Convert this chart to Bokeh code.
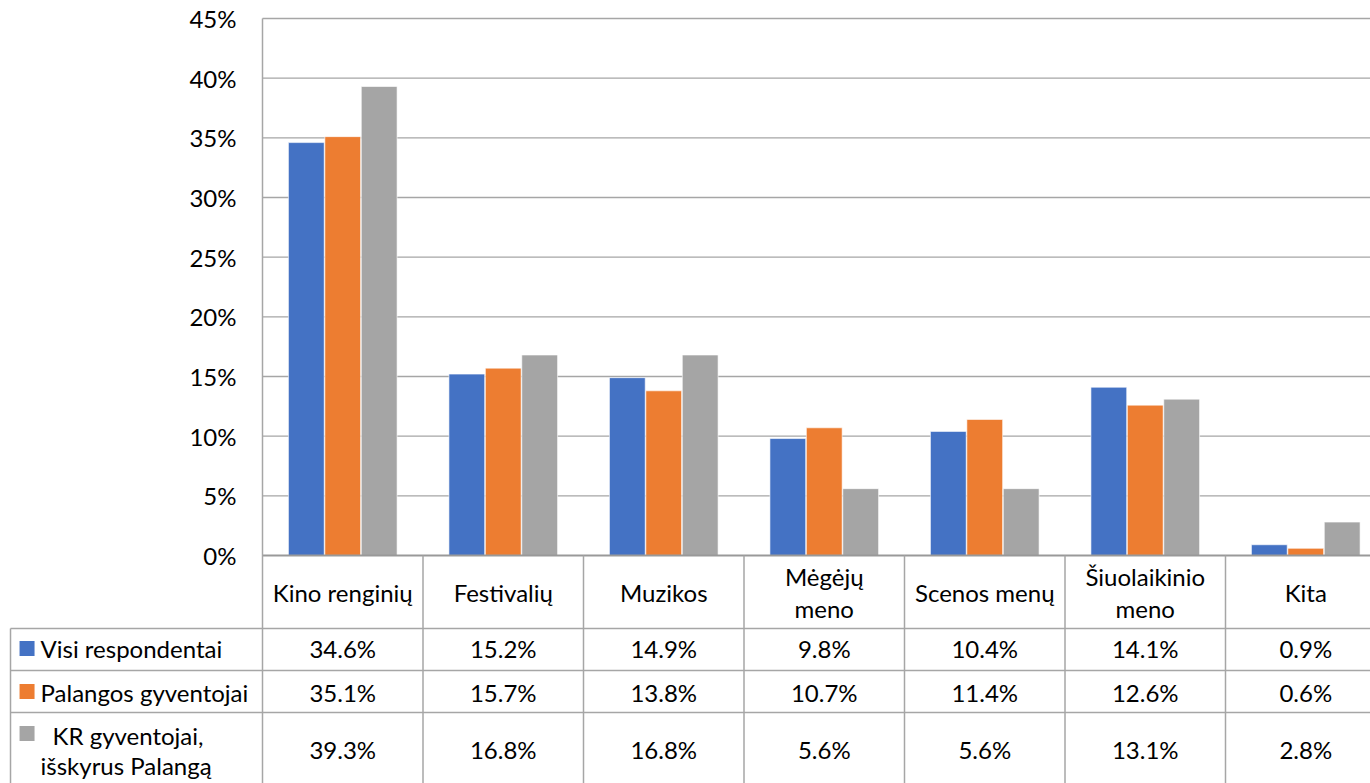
from bokeh.plotting import figure
from bokeh.models import Range1d
from bokeh.core.properties import value
from bokeh.embed import file_html
from bokeh.resources import INLINE

# ---------------- data ----------------
categories = ["Kino renginių", "Festivalių", "Muzikos", "Mėgėjų\nmeno",
              "Scenos menų", "Šiuolaikinio\nmeno", "Kita"]
series_names = ["Visi respondentai", "Palangos gyventojai",
                "KR gyventojai,\nišskyrus Palangą"]
visi = [34.6, 15.2, 14.9, 9.8, 10.4, 14.1, 0.9]
palangos = [35.1, 15.7, 13.8, 10.7, 11.4, 12.6, 0.6]
kr = [39.3, 16.8, 16.8, 5.6, 5.6, 13.1, 2.8]
y_ticks = [0, 5, 10, 15, 20, 25, 30, 35, 40, 45]
y_tick_labels = [f"{t}%" for t in y_ticks]
series = [visi, palangos, kr]
colors = ["#4472C4", "#ED7D31", "#A5A5A5"]

# ---------------- styling ----------------
FONT = value("Lato")
FS = "24px"
TXT = "#000000"
LINE = "#a6a6a6"

W, H = 1370, 783
p = figure(width=W, height=H, output_backend="svg", toolbar_location=None,
           x_range=Range1d(-1.6324, 6.9034), y_range=Range1d(-19.107, 46.508),
           min_border=0, outline_line_color=None)
p.axis.visible = False
p.grid.visible = False
p.background_fill_color = "white"
p.extra_y_ranges = {"tbl": Range1d(-228, 555)}

n = len(categories)
centers = [i + 0.5 for i in range(n)]
right_end = n + 0.5

# gridlines
p.segment(x0=[0] * (len(y_ticks) - 1), x1=[right_end] * (len(y_ticks) - 1),
          y0=y_ticks[1:], y1=y_ticks[1:], line_color=LINE, line_width=1.3)

# bars
offsets = [-0.227, 0.0, 0.227]
for vals, col, off in zip(series, colors, offsets):
    p.vbar(x=[c + off for c in centers], top=vals, bottom=0, width=0.223,
           fill_color=col, line_color="white", line_width=0.6)

# baseline (0%)
p.segment(x0=[0], x1=[right_end], y0=[0], y1=[0], line_color="#999999", line_width=2)

# y tick labels
p.text(x=[-0.162] * len(y_ticks), y=y_ticks, text=y_tick_labels,
       text_align="right", text_baseline="middle", text_font=FONT,
       text_font_size=FS, text_color=TXT)

# ---------------- data table ----------------
vx = list(range(n))
p.segment(x0=vx, x1=vx, y0=[-228] * n, y1=[537] + [0] * (n - 1),
          line_color=LINE, line_width=1.5, y_range_name="tbl")
p.segment(x0=[-1.570], x1=[-1.570], y0=[-73], y1=[-228],
          line_color=LINE, line_width=1.5, y_range_name="tbl")
row_lines = [-73, -115, -157]
p.segment(x0=[-1.570] * 3, x1=[right_end] * 3, y0=row_lines, y1=row_lines,
          line_color=LINE, line_width=1.5, y_range_name="tbl")

# category headers
hx, hy, ht = [], [], []
for c, cat in zip(centers, categories):
    parts = cat.split("\n")
    if len(parts) == 1:
        hx.append(c); hy.append(-37); ht.append(parts[0])
    else:
        hx += [c, c]; hy += [-21, -53]; ht += parts
p.text(x=hx, y=hy, text=ht, text_align="center", text_baseline="middle",
       text_font=FONT, text_font_size=FS, text_color=TXT, y_range_name="tbl")

# values
row_y = [-93, -137, -194]
vx2, vy2, vt2 = [], [], []
for vals, ry in zip(series, row_y):
    for c, v in zip(centers, vals):
        vx2.append(c); vy2.append(ry); vt2.append(f"{v:.1f}%")
p.text(x=vx2, y=vy2, text=vt2, text_align="center", text_baseline="middle",
       text_font=FONT, text_font_size=FS, text_color=TXT, y_range_name="tbl")

# legend keys
key_y = [-93, -136, -178]
p.rect(x=[-1.467] * 3, y=key_y, width=15, height=15, width_units="screen",
       height_units="screen", fill_color=colors, line_color=None, y_range_name="tbl")

lx = [-1.383, -1.383, -1.308, -1.383]
ly = [-93, -137, -180, -210]
lt = [series_names[0], series_names[1]] + series_names[2].split("\n")
p.text(x=lx, y=ly, text=lt, text_align="left", text_baseline="middle",
       text_font=FONT, text_font_size=FS, text_color=TXT, y_range_name="tbl")

open("out.html", "w").write(file_html(p, INLINE))
